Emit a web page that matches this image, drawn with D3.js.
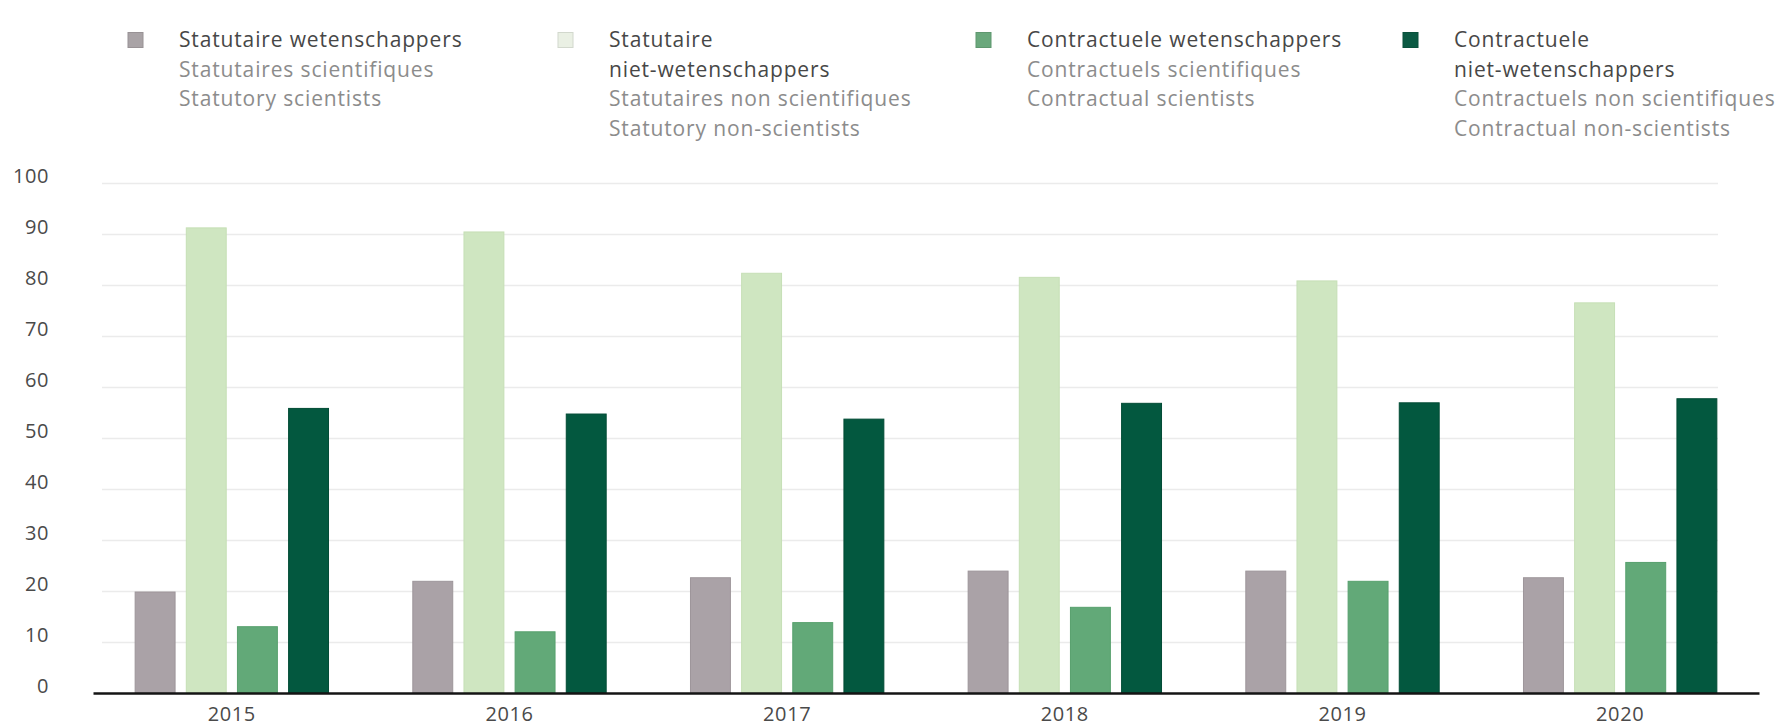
<!DOCTYPE html>
<html>
<head>
<meta charset="utf-8">
<script src="https://cdn.jsdelivr.net/npm/d3@7"></script>
<style>
  html, body { margin: 0; padding: 0; background: #ffffff; }
  svg { display: block; font-family: "Open Sans", "Noto Sans", sans-serif; }
</style>
</head>
<body>
<svg id="chart" width="1777" height="728"></svg>
<script>
// Staff composition by category, 2015–2020
const years = ["2015", "2016", "2017", "2018", "2019", "2020"];
const seriesKeys = ["statSci", "statNonSci", "contrSci", "contrNonSci"];
const statSci     = [19.8, 21.9, 22.6, 23.9, 23.9, 22.6];
const statNonSci  = [91.2, 90.4, 82.3, 81.5, 80.8, 76.5];
const contrSci    = [13.0, 12.0, 13.8, 16.8, 21.9, 25.6];
const contrNonSci = [55.8, 54.7, 53.7, 56.8, 56.9, 57.7];
const yTicks = [0, 10, 20, 30, 40, 50, 60, 70, 80, 90, 100];

// Legend labels: Dutch / French / English
const legendLabels = [
  [["Statutaire wetenschappers"], ["Statutaires scientifiques", "Statutory scientists"]],
  [["Statutaire", "niet-wetenschappers"], ["Statutaires non scientifiques", "Statutory non-scientists"]],
  [["Contractuele wetenschappers"], ["Contractuels scientifiques", "Contractual scientists"]],
  [["Contractuele", "niet-wetenschappers"], ["Contractuels non scientifiques", "Contractual non-scientists"]]
];

const valuesByKey = { statSci, statNonSci, contrSci, contrNonSci };
const colors = {
  statSci: "#aaa2a7",
  statNonSci: "#cfe6c1",
  contrSci: "#62a978",
  contrNonSci: "#03583f"
};
const strokes = {
  statSci: "#9d959a",
  statNonSci: "#c6dfb6",
  contrSci: "#57a06d",
  contrNonSci: "#024b35"
};
// legend swatches are drawn a little paler than the bars
const swatchFill = {
  statSci: "#a9a3a6",
  statNonSci: "#eaf0e4",
  contrSci: "#6aa87c",
  contrNonSci: "#0b5a43"
};

const svg = d3.select("#chart");

const x0 = d3.scaleBand().domain(years).range([93, 1759]).paddingInner(0.3).paddingOuter(0.15);
const x1 = d3.scaleBand().domain(seriesKeys).range([0, x0.bandwidth()]).paddingInner(0.2);
const y = d3.scaleLinear().domain([0, 100]).range([693, 183]);

// Horizontal gridlines
const grid = svg.append("g")
  .attr("transform", "translate(102,0)")
  .call(d3.axisLeft(y).tickValues(yTicks.filter(d => d > 0)).tickSize(-1616).tickFormat(""));
grid.select(".domain").remove();
grid.selectAll(".tick line").attr("stroke", "#ebebeb").attr("stroke-width", 1.5);

// Y axis labels
const yAxis = svg.append("g")
  .attr("transform", "translate(49,0)")
  .call(d3.axisLeft(y).tickValues(yTicks).tickSize(0).tickPadding(0));
yAxis.select(".domain").remove();
yAxis.selectAll("text")
  .attr("fill", "#4a4a4a")
  .attr("font-size", 20)
  .attr("letter-spacing", "0.6px")
  .attr("dy", "-0.05em")
  .style("font-family", "'Open Sans', sans-serif");

// Bars
const groups = svg.append("g").selectAll("g")
  .data(years)
  .join("g")
  .attr("transform", d => `translate(${x0(d)},0)`);

groups.selectAll("rect")
  .data((yr, i) => seriesKeys.map(k => ({ key: k, value: valuesByKey[k][i] })))
  .join("rect")
  .attr("x", d => x1(d.key) + 0.5)
  .attr("y", d => y(d.value))
  .attr("width", x1.bandwidth() - 1)
  .attr("height", d => y(0) - y(d.value))
  .attr("fill", d => colors[d.key])
  .attr("stroke", d => strokes[d.key])
  .attr("stroke-width", 1);

// X axis baseline and year labels
const xAxis = svg.append("g")
  .attr("transform", `translate(0,${y(0)})`)
  .call(d3.axisBottom(x0).tickSize(0).tickPadding(14));
xAxis.select(".domain").attr("stroke", "#141414").attr("stroke-width", 2.5);
xAxis.selectAll("text")
  .attr("fill", "#4a4a4a")
  .attr("font-size", 20)
  .attr("letter-spacing", "0.6px")
  .style("font-family", "'Open Sans', sans-serif");

// Legend
const legendX = [179, 609, 1027, 1454];
const lineH = 29.5;
const legend = svg.append("g").selectAll("g")
  .data(seriesKeys)
  .join("g")
  .attr("transform", (d, i) => `translate(${legendX[i]},40)`);

legend.append("rect")
  .attr("x", -51)
  .attr("y", -7.5)
  .attr("width", 15)
  .attr("height", 15)
  .attr("fill", d => swatchFill[d])
  .attr("stroke", d => d3.color(swatchFill[d]).darker(0.3))
  .attr("stroke-width", 1);

legend.each(function(d, i) {
  const g = d3.select(this);
  const [primary, secondary] = legendLabels[i];
  const lines = primary.map(t => ({ t, c: "#474747" }))
    .concat(secondary.map(t => ({ t, c: "#8c8c8c" })));
  g.selectAll("text")
    .data(lines)
    .join("text")
    .attr("x", 0)
    .attr("y", (l, j) => j * lineH)
    .attr("dy", "0.35em")
    .attr("font-size", 21)
    .attr("letter-spacing", "0.85px")
    .attr("fill", l => l.c)
    .text(l => l.t);
});
</script>
</body>
</html>
